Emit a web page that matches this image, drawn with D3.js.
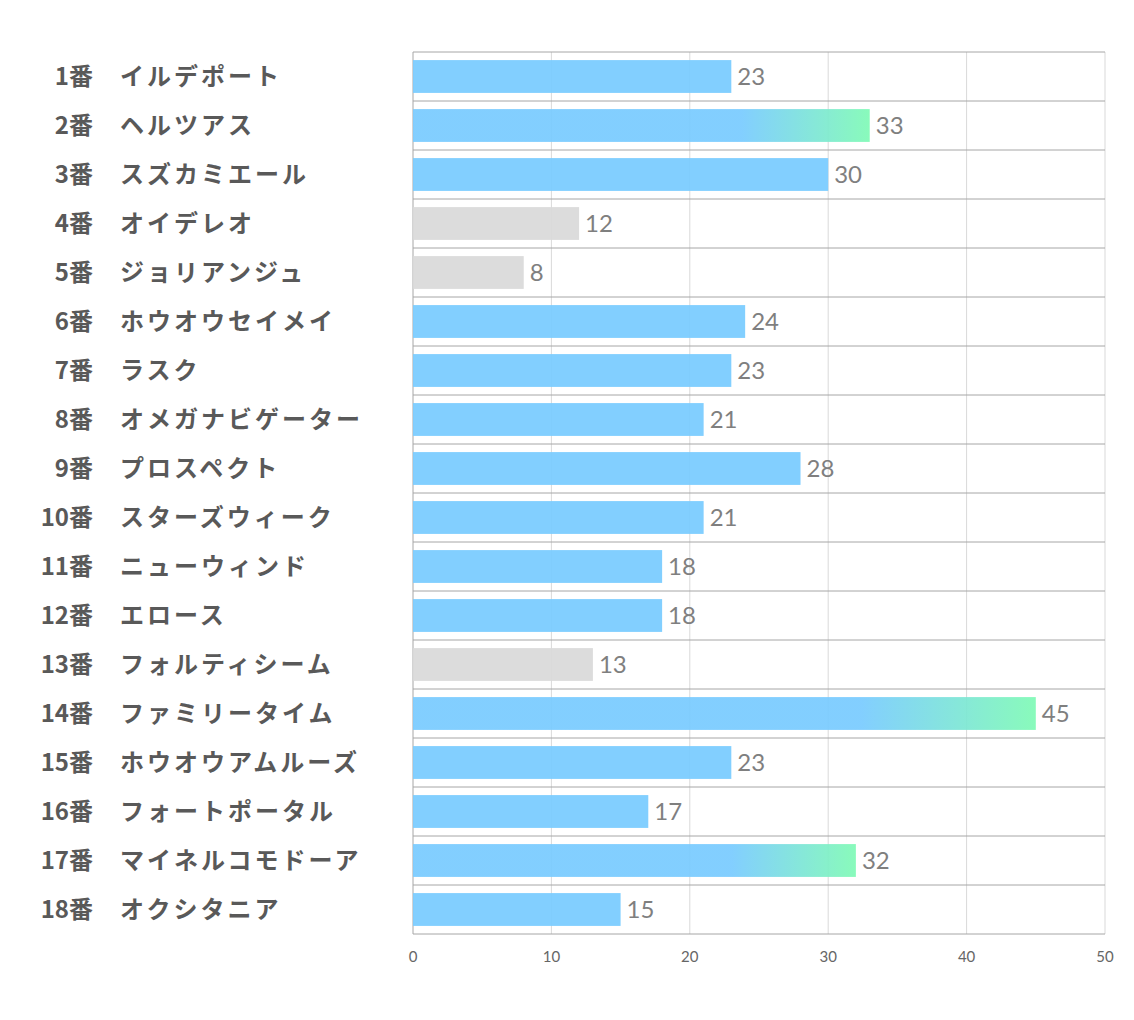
<!DOCTYPE html>
<html>
<head>
<meta charset="utf-8">
<script src="https://cdn.jsdelivr.net/npm/d3@7"></script>
<style>
  body { margin: 0; background: #fff; }
</style>
</head>
<body>
<div id="chart"></div>
<script>
const numbers = ["1番","2番","3番","4番","5番","6番","7番","8番","9番","10番","11番","12番","13番","14番","15番","16番","17番","18番"]
const names = ["イルデポート","ヘルツアス","スズカミエール","オイデレオ","ジョリアンジュ","ホウオウセイメイ","ラスク","オメガナビゲーター","プロスペクト","スターズウィーク","ニューウィンド","エロース","フォルティシーム","ファミリータイム","ホウオウアムルーズ","フォートポータル","マイネルコモドーア","オクシタニア"]
const values = [23,33,30,12,8,24,23,21,28,21,18,18,13,45,23,17,32,15]
// 0 = gray, 1 = blue, 2 = blue->green
const kinds = [1,2,1,0,0,1,1,1,1,1,1,1,0,2,1,1,2,1]
const ticks = [0,10,20,30,40,50]

const width = 1134, height = 1020
const plotLeft = 413, plotRight = 1105, plotTop = 52, plotBottom = 934

const svg = d3.select("#chart").append("svg")
  .attr("width", width).attr("height", height)

const x = d3.scaleLinear().domain([0, 50]).range([plotLeft, plotRight])
const y = d3.scaleBand().domain(d3.range(values.length)).range([plotTop, plotBottom]).paddingInner(0.33).paddingOuter(0.165)
const rowH = (plotBottom - plotTop) / values.length

const defs = svg.append("defs")
const grad = defs.append("linearGradient").attr("id", "grad")
  .attr("x1", "0%").attr("x2", "100%").attr("y1", "0%").attr("y2", "0%")
grad.append("stop").attr("offset", "0%").attr("stop-color", "#79cbff")
grad.append("stop").attr("offset", "72%").attr("stop-color", "#79cbff")
grad.append("stop").attr("offset", "100%").attr("stop-color", "#80fab6")

// vertical grid
svg.selectAll(".vgrid").data(ticks).join("line")
  .attr("x1", d => x(d)).attr("x2", d => x(d))
  .attr("y1", plotTop).attr("y2", plotBottom)
  .attr("stroke", d => d == 0 ? "#a6a6a6" : "#d9d9d9").attr("stroke-width", 1)

// horizontal row lines
svg.selectAll(".hgrid").data(d3.range(values.length + 1)).join("line")
  .attr("x1", plotLeft).attr("x2", plotRight)
  .attr("y1", d => plotTop + d * rowH).attr("y2", d => plotTop + d * rowH)
  .attr("stroke", "#a6a6a6").attr("stroke-width", 1)

// bars
svg.selectAll(".bar").data(values).join("rect")
  .attr("x", x(0))
  .attr("y", (d, i) => y(i))
  .attr("width", d => x(d) - x(0))
  .attr("height", y.bandwidth())
  .attr("fill", (d, i) => kinds[i] == 0 ? "#d9d9d9" : kinds[i] == 1 ? "#79cbff" : "url(#grad)")
  .style("opacity", 0.93)

// value labels
svg.selectAll(".val").data(values).join("text")
  .attr("x", d => x(d) + 6)
  .attr("y", (d, i) => y(i) + y.bandwidth() / 2)
  .attr("dy", "0.36em")
  .text(d => d)
  .style("font-family", "Lato, 'Open Sans', sans-serif")
  .style("font-size", "24px")
  .style("fill", "#7f7f7f")

// horse numbers
svg.selectAll(".num").data(numbers).join("text")
  .attr("x", 93)
  .attr("y", (d, i) => y(i) + y.bandwidth() / 2)
  .attr("dy", "0.36em")
  .attr("text-anchor", "end")
  .text(d => d)
  .style("font-family", "'Noto Sans CJK JP', sans-serif")
  .style("font-weight", "bold")
  .style("font-size", "24px")
  .style("fill", "#595959")

// horse names
svg.selectAll(".name").data(names).join("text")
  .attr("x", 120)
  .attr("y", (d, i) => y(i) + y.bandwidth() / 2)
  .attr("dy", "0.36em")
  .text(d => d)
  .style("font-family", "'Noto Sans CJK JP', sans-serif")
  .style("font-weight", "bold")
  .style("font-size", "24px")
  .style("letter-spacing", "3px")
  .style("fill", "#595959")

// x axis tick labels
svg.selectAll(".tick").data(ticks).join("text")
  .attr("x", d => x(d))
  .attr("y", 957)
  .attr("dy", "0.36em")
  .attr("text-anchor", "middle")
  .text(d => d)
  .style("font-family", "Lato, 'Open Sans', sans-serif")
  .style("font-size", "15px")
  .style("fill", "#666666")
</script>
</body>
</html>
